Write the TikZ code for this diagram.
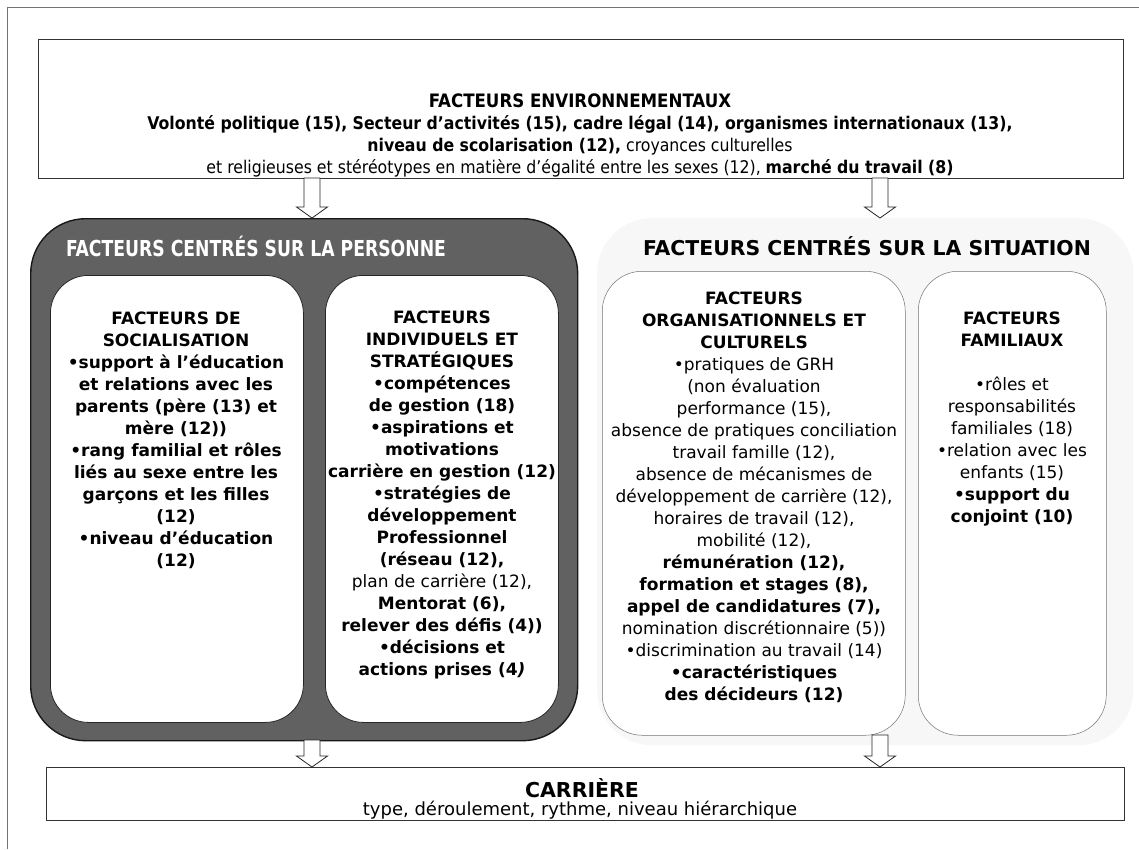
\documentclass[tikz,border=0pt]{standalone}
\usepackage{fontspec}
\usepackage{graphicx}
\setmainfont{DejaVu Sans}
\newfontfamily\condensed{DejaVu Sans Condensed}
\usetikzlibrary{calc}

\tikzset{
  frameline/.style={draw=black!55, line width=0.7pt},
  plainbox/.style={draw=black!80, line width=0.8pt, fill=white, anchor=north west, inner sep=0pt},
  personring/.style={draw=black!90, line width=1.4pt, fill=black!62, rounded corners=55pt,
    anchor=north west, inner sep=0pt},
  personbox/.style={draw=black!85, line width=0.8pt, fill=white, rounded corners=38pt,
    anchor=north west, inner sep=0pt},
  situationzone/.style={fill=black!3, draw=none, rounded corners=55pt,
    anchor=north west, inner sep=0pt},
  situationbox/.style={draw=black!55, line width=0.5pt, fill=white, rounded corners=40pt,
    anchor=north west, inner sep=0pt},
  body/.style={align=center, inner sep=0pt, font=\fontsize{17}{22}\selectfont},
  bodybold/.style={align=center, inner sep=0pt, font=\fontsize{17}{22}\selectfont\bfseries},
  envtext/.style={align=center, inner sep=0pt, font=\condensed\fontsize{17.5}{22}\selectfont},
  blockarrow/.style={draw=black!85, line width=0.8pt, fill=white, line join=miter},
}

% hollow downward block arrow between two named points
\newcommand\hollowarrow[2]{%
  \path[blockarrow] let \p1=(#1), \p2=(#2) in
    (\x1-8pt,\y1) -- (\x1-8pt,\y2+11pt) -- (\x1-15.5pt,\y2+11pt) -- (\x1,\y2)
    -- (\x1+15.5pt,\y2+11pt) -- (\x1+8pt,\y2+11pt) -- (\x1+8pt,\y1) -- cycle;}

\begin{document}
\begin{tikzpicture}[x=1pt, y=-1pt]
\useasboundingbox (0,0) rectangle (1139,849);
\fill[white] (0,0) rectangle (1139,849);

% outer frame (top and left edges)
\draw[frameline] (7,849) -- (7,7.5) -- (1139,7.5);

% environment box
\node[plainbox, minimum width=1085, minimum height=139] (env) at (38,39) {};
\node[envtext] (envtxt) at (580,135) {%
  {\bfseries\fontsize{18.5}{22}\selectfont FACTEURS ENVIRONNEMENTAUX}\\
  {\bfseries Volonté politique (15), Secteur d’activités (15), cadre légal (14), organismes internationaux (13),}\\
  {\bfseries niveau de scolarisation (12),} croyances culturelles\\
  et religieuses et stéréotypes en matière d’égalité entre les sexes (12), {\bfseries marché du travail (8)}};

% person-centred factors
\node[personring, minimum width=547, minimum height=522] (person) at (30,218) {};
\node[personbox, minimum width=253, minimum height=447] (social) at (50,275) {};
\node[personbox, minimum width=233, minimum height=447] (indiv) at (325,275) {};
\node[font=\condensed\bfseries\fontsize{22}{24}\selectfont, text=white, inner sep=0pt]
  (persontitle) at (256,246) {\scalebox{0.87}[1]{FACTEURS CENTRÉS SUR LA PERSONNE}};

\node[bodybold] (socialtxt) at (176,440) {%
  FACTEURS DE\\SOCIALISATION\\•support à l’éducation\\et relations avec les\\
  parents (père (13) et\\mère (12))\\•rang familial et rôles\\liés au sexe entre les\\
  garçons et les filles\\(12)\\•niveau d’éducation\\(12)};

\node[bodybold] (indivtxt) at (442,495) {%
  FACTEURS\\INDIVIDUELS ET\\STRATÉGIQUES\\•compétences\\de gestion (18)\\
  •aspirations et\\motivations\\carrière en gestion (12)\\•stratégies de\\
  développement\\Professionnel\\(réseau (12),\\{\mdseries plan de carrière (12),}\\
  Mentorat (6),\\relever des défis (4))\\•décisions et\\actions prises (4\textit{)}};

% situation-centred factors
\node[situationzone, minimum width=536, minimum height=527] (situation) at (597,218) {};
\node[situationbox, minimum width=303, minimum height=464] (orga) at (602,271) {};
\node[situationbox, minimum width=188, minimum height=464] (family) at (918,271) {};
\node[font=\bfseries\fontsize{20.4}{22}\selectfont, inner sep=0pt]
  (situationtitle) at (867,246) {FACTEURS CENTRÉS SUR LA SITUATION};

\node[body] (orgatxt) at (754,497.5) {%
  {\bfseries FACTEURS}\\{\bfseries ORGANISATIONNELS ET}\\{\bfseries CULTURELS}\\
  •pratiques de GRH\\(non évaluation\\performance (15),\\
  absence de pratiques conciliation\\travail famille (12),\\
  absence de mécanismes de\\développement de carrière (12),\\
  horaires de travail (12),\\mobilité (12),\\
  {\bfseries rémunération (12),}\\{\bfseries formation et stages (8),}\\
  {\bfseries appel de candidatures (7),}\\nomination discrétionnaire (5))\\
  •discrimination au travail (14)\\{\bfseries •caractéristiques}\\
  {\bfseries des décideurs (12)}};

\node[body] (familytxt) at (1012,419) {%
  {\bfseries FACTEURS}\\{\bfseries FAMILIAUX}\\[22pt]
  •rôles et\\responsabilités\\familiales (18)\\•relation avec les\\
  enfants (15)\\{\bfseries •support du}\\{\bfseries conjoint (10)}};

% career box
\node[plainbox, minimum width=1078, minimum height=53] (career) at (46,767) {};
\node[font=\bfseries\fontsize{20.5}{22}\selectfont, inner sep=0pt] (careertitle) at (582,788) {CARRIÈRE};
\node[font=\fontsize{18}{22}\selectfont, inner sep=0pt] (careertxt) at (580,810)
  {type, déroulement, rythme, niveau hiérarchique};

% arrows between the levels
\coordinate (envL) at (312,178);   \coordinate (personTop) at (312,218);
\coordinate (envR) at (880,178);   \coordinate (situationTop) at (880,218);
\coordinate (personBot) at (312,740); \coordinate (careerL) at (312,767);
\coordinate (situationBot) at (880,735); \coordinate (careerR) at (880,767);
\hollowarrow{envL}{personTop}
\hollowarrow{envR}{situationTop}
\hollowarrow{personBot}{careerL}
\hollowarrow{situationBot}{careerR}
\end{tikzpicture}
\end{document}
